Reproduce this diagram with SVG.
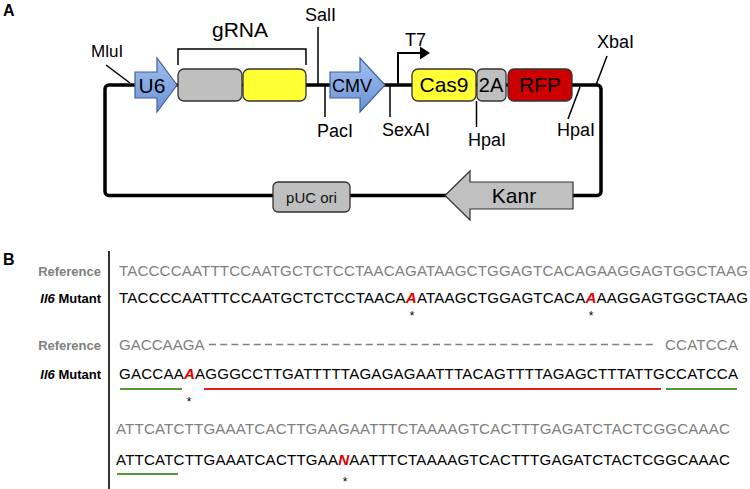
<svg xmlns="http://www.w3.org/2000/svg" width="750" height="489" viewBox="0 0 750 489">
<defs>
<linearGradient id="blue" x1="0" y1="0" x2="0" y2="1">
<stop offset="0" stop-color="#a3c0ee"/>
<stop offset="1" stop-color="#6a92d8"/>
</linearGradient>
<style>
text{font-family:"Liberation Sans",Arial,Helvetica,sans-serif;}
.lab{font-size:18px;fill:#000;}
.box{stroke:#333;stroke-width:1.3;}
.bl{font-size:21px;fill:#000;text-anchor:middle;}
.ln{stroke:#000;stroke-width:1.5;fill:none;}
.bb{stroke:#000;stroke-width:3.5;fill:none;}
.seq{font-size:15.1px;}
.ref{fill:#808080;}
.mut{fill:#000;}
.red{fill:#e00000;font-weight:bold;font-style:italic;}
.rl{font-size:13px;font-weight:bold;text-anchor:end;}
.ast{font-size:12px;text-anchor:middle;fill:#000;}
.ug{stroke:#4f9a36;stroke-width:2;}
.ur{stroke:#e02020;stroke-width:2;}
.pn{font-size:16px;font-weight:bold;fill:#000;}
</style>
</defs>
<rect width="750" height="489" fill="#fff"/>
<text class="pn" x="3" y="16">A</text>
<g id="connectors">
<rect class="bb" x="105" y="85" width="496" height="110.5" rx="4"/>
<path class="ln" d="M178,65 V49 H306 V65"/>
<line class="ln" x1="106" y1="65" x2="130" y2="83"/>
<line class="ln" x1="318" y1="27" x2="318" y2="85"/>
<line class="ln" x1="325" y1="85" x2="325" y2="117"/>
<line class="ln" x1="390" y1="85" x2="390" y2="117"/>
<line class="ln" x1="476.5" y1="101" x2="476.5" y2="127"/>
<line class="ln" x1="580" y1="87" x2="568" y2="119"/>
<line class="ln" x1="607" y1="56" x2="596" y2="85"/>
<path d="M398,85 V53 H421" fill="none" stroke="#000" stroke-width="2"/>
<polygon points="420,46.5 430,53 420,59.5" fill="#000"/>
</g>
<g id="gRNA-label"><text class="bl" x="240" y="37">gRNA</text></g>
<g id="MluI"><text class="lab" x="91" y="57" style="font-size:17px">MluI</text></g>
<g id="SalI"><text class="lab" x="305" y="21">SalI</text></g>
<g id="PacI"><text class="lab" x="317" y="137">PacI</text></g>
<g id="SexAI"><text class="lab" x="382" y="136">SexAI</text></g>
<g id="HpaI-1"><text class="lab" x="468" y="146">HpaI</text></g>
<g id="HpaI-2"><text class="lab" x="557" y="136">HpaI</text></g>
<g id="XbaI"><text class="lab" x="597" y="48">XbaI</text></g>
<g id="T7"><text class="lab" x="405" y="46">T7</text></g>
<g id="U6">
<polygon points="135,72 157,72 157,58 177,85 157,112 157,98 135,98" fill="url(#blue)" stroke="#3d5f9e" stroke-width="1.2"/>
<text class="bl" x="152" y="93" style="font-size:21px">U6</text>
</g>
<g id="gRNA-grey"><rect class="box" x="178" y="69" width="64" height="32" rx="6" fill="#bfbfbf"/></g>
<g id="gRNA-yellow"><rect class="box" x="243" y="69" width="63" height="32" rx="6" fill="#ffff33"/></g>
<g id="CMV">
<polygon points="330,72 360,72 360,58 385,85 360,112 360,98 330,98" fill="url(#blue)" stroke="#3d5f9e" stroke-width="1.2"/>
<text x="352" y="92" style="font-size:18px;text-anchor:middle;fill:#000">CMV</text>
</g>
<g id="Cas9"><rect class="box" x="412" y="69" width="64" height="32" rx="6" fill="#ffff33"/><text class="bl" x="444" y="92">Cas9</text></g>
<g id="T2A"><rect class="box" x="477" y="69" width="29" height="32" rx="5" fill="#bfbfbf"/><text class="bl" x="491" y="92" style="font-size:20px">2A</text></g>
<g id="RFP"><rect class="box" x="508" y="69" width="64" height="32" rx="6" fill="#cc0000" stroke="#4a0000"/><text class="bl" x="540" y="92">RFP</text></g>
<g id="pUC-ori"><rect class="box" x="273" y="182" width="77" height="30" rx="5" fill="#bfbfbf"/><text x="311.5" y="203" style="font-size:15px;text-anchor:middle;fill:#111">pUC ori</text></g>
<g id="Kanr">
<polygon points="445,195.5 470,171 470,182 573,182 573,209 470,209 470,220" fill="#c0c0c0" stroke="#333" stroke-width="1.2"/>
<text class="bl" x="514" y="203">Kanr</text>
</g>
<text class="pn" x="3" y="265">B</text>
<line x1="109" y1="251" x2="109" y2="489" stroke="#000" stroke-width="1.6"/>
<g id="row1">
<text class="rl ref" x="101" y="276">Reference</text>
<text class="seq ref" x="119" y="276" textLength="629">TACCCCAATTTCCAATGCTCTCCTAACAGATAAGCTGGAGTCACAGAAGGAGTGGCTAAG</text>
</g>
<g id="row2">
<text class="rl mut" x="101" y="303"><tspan font-style="italic">Il6</tspan> Mutant</text>
<text class="seq mut" x="119" y="303" textLength="629">TACCCCAATTTCCAATGCTCTCCTAACA<tspan class="red">A</tspan>ATAAGCTGGAGTCACA<tspan class="red">A</tspan>AAGGAGTGGCTAAG</text>
<text class="ast" x="412" y="320">*</text>
<text class="ast" x="591" y="320">*</text>
</g>
<g id="row3">
<text class="rl ref" x="101" y="350">Reference</text>
<text class="seq ref" x="119" y="350">GACCAAGA</text>
<line x1="209" y1="344.5" x2="655" y2="344.5" stroke="#808080" stroke-width="1.5" stroke-dasharray="7,4.2"/>
<text class="seq ref" x="665" y="350" textLength="73">CCATCCA</text>
</g>
<g id="row4">
<text class="rl mut" x="101" y="379"><tspan font-style="italic">Il6</tspan> Mutant</text>
<text class="seq mut" x="119" y="379" textLength="619">GACCAA<tspan class="red">A</tspan>AGGGCCTTGATTTTTAGAGAGAATTTACAGTTTTAGAGCTTTATTGCCATCCA</text>
<line class="ug" x1="120" y1="389" x2="182" y2="389"/>
<line class="ur" x1="204" y1="389" x2="661" y2="389"/>
<line class="ug" x1="666" y1="389" x2="737" y2="389"/>
<text class="ast" x="189" y="406">*</text>
</g>
<g id="row5">
<text class="seq ref" x="116" y="434" textLength="614">ATTCATCTTGAAATCACTTGAAGAATTTCTAAAAGTCACTTTGAGATCTACTCGGCAAAC</text>
</g>
<g id="row6">
<text class="seq mut" x="116" y="465" textLength="614">ATTCATCTTGAAATCACTTGAA<tspan class="red">N</tspan>AATTTCTAAAAGTCACTTTGAGATCTACTCGGCAAAC</text>
<line class="ug" x1="117" y1="474" x2="178" y2="474"/>
<text class="ast" x="345" y="486">*</text>
</g>
</svg>
